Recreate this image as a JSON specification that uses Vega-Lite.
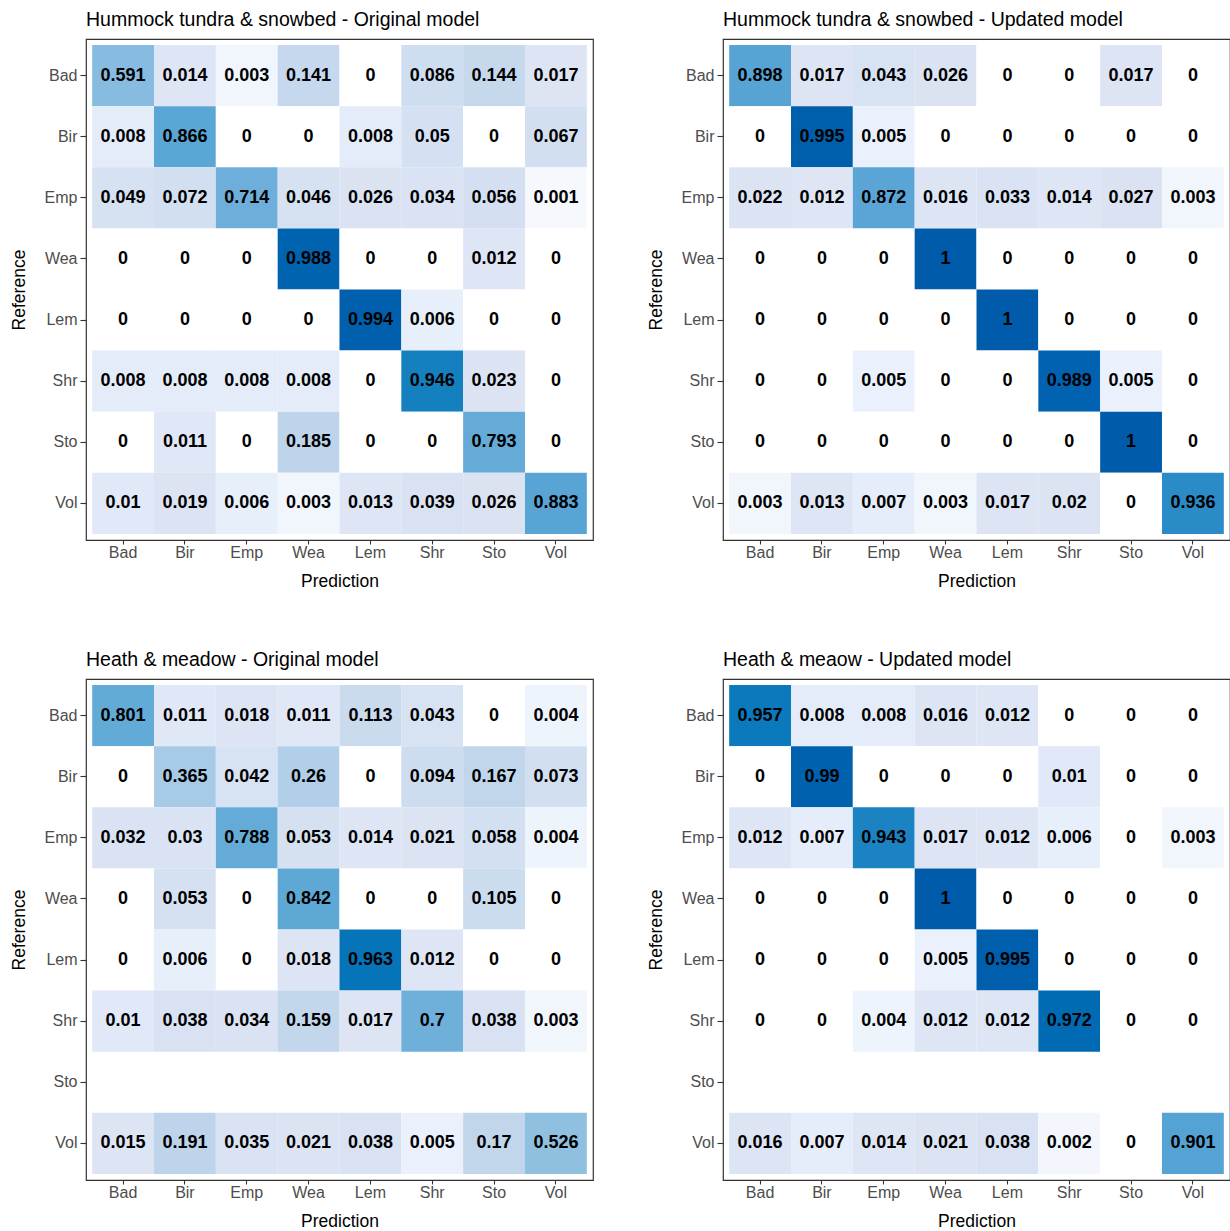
{
  "$schema": "https://vega.github.io/schema/vega-lite/v6.json",
  "padding": {"left": 9, "top": 8, "right": 0, "bottom": 0},
  "background": "white",
  "bounds": "flush",
  "columns": 2,
  "spacing": {"row": 139, "column": 130},
  "data": {"values": [
    {"p":"A","r":"Bad","c":"Bad","v":0.591},{"p":"A","r":"Bad","c":"Bir","v":0.014},{"p":"A","r":"Bad","c":"Emp","v":0.003},{"p":"A","r":"Bad","c":"Wea","v":0.141},{"p":"A","r":"Bad","c":"Lem","v":0},{"p":"A","r":"Bad","c":"Shr","v":0.086},{"p":"A","r":"Bad","c":"Sto","v":0.144},{"p":"A","r":"Bad","c":"Vol","v":0.017},
    {"p":"A","r":"Bir","c":"Bad","v":0.008},{"p":"A","r":"Bir","c":"Bir","v":0.866},{"p":"A","r":"Bir","c":"Emp","v":0},{"p":"A","r":"Bir","c":"Wea","v":0},{"p":"A","r":"Bir","c":"Lem","v":0.008},{"p":"A","r":"Bir","c":"Shr","v":0.05},{"p":"A","r":"Bir","c":"Sto","v":0},{"p":"A","r":"Bir","c":"Vol","v":0.067},
    {"p":"A","r":"Emp","c":"Bad","v":0.049},{"p":"A","r":"Emp","c":"Bir","v":0.072},{"p":"A","r":"Emp","c":"Emp","v":0.714},{"p":"A","r":"Emp","c":"Wea","v":0.046},{"p":"A","r":"Emp","c":"Lem","v":0.026},{"p":"A","r":"Emp","c":"Shr","v":0.034},{"p":"A","r":"Emp","c":"Sto","v":0.056},{"p":"A","r":"Emp","c":"Vol","v":0.001},
    {"p":"A","r":"Wea","c":"Bad","v":0},{"p":"A","r":"Wea","c":"Bir","v":0},{"p":"A","r":"Wea","c":"Emp","v":0},{"p":"A","r":"Wea","c":"Wea","v":0.988},{"p":"A","r":"Wea","c":"Lem","v":0},{"p":"A","r":"Wea","c":"Shr","v":0},{"p":"A","r":"Wea","c":"Sto","v":0.012},{"p":"A","r":"Wea","c":"Vol","v":0},
    {"p":"A","r":"Lem","c":"Bad","v":0},{"p":"A","r":"Lem","c":"Bir","v":0},{"p":"A","r":"Lem","c":"Emp","v":0},{"p":"A","r":"Lem","c":"Wea","v":0},{"p":"A","r":"Lem","c":"Lem","v":0.994},{"p":"A","r":"Lem","c":"Shr","v":0.006},{"p":"A","r":"Lem","c":"Sto","v":0},{"p":"A","r":"Lem","c":"Vol","v":0},
    {"p":"A","r":"Shr","c":"Bad","v":0.008},{"p":"A","r":"Shr","c":"Bir","v":0.008},{"p":"A","r":"Shr","c":"Emp","v":0.008},{"p":"A","r":"Shr","c":"Wea","v":0.008},{"p":"A","r":"Shr","c":"Lem","v":0},{"p":"A","r":"Shr","c":"Shr","v":0.946},{"p":"A","r":"Shr","c":"Sto","v":0.023},{"p":"A","r":"Shr","c":"Vol","v":0},
    {"p":"A","r":"Sto","c":"Bad","v":0},{"p":"A","r":"Sto","c":"Bir","v":0.011},{"p":"A","r":"Sto","c":"Emp","v":0},{"p":"A","r":"Sto","c":"Wea","v":0.185},{"p":"A","r":"Sto","c":"Lem","v":0},{"p":"A","r":"Sto","c":"Shr","v":0},{"p":"A","r":"Sto","c":"Sto","v":0.793},{"p":"A","r":"Sto","c":"Vol","v":0},
    {"p":"A","r":"Vol","c":"Bad","v":0.01},{"p":"A","r":"Vol","c":"Bir","v":0.019},{"p":"A","r":"Vol","c":"Emp","v":0.006},{"p":"A","r":"Vol","c":"Wea","v":0.003},{"p":"A","r":"Vol","c":"Lem","v":0.013},{"p":"A","r":"Vol","c":"Shr","v":0.039},{"p":"A","r":"Vol","c":"Sto","v":0.026},{"p":"A","r":"Vol","c":"Vol","v":0.883},

    {"p":"B","r":"Bad","c":"Bad","v":0.898},{"p":"B","r":"Bad","c":"Bir","v":0.017},{"p":"B","r":"Bad","c":"Emp","v":0.043},{"p":"B","r":"Bad","c":"Wea","v":0.026},{"p":"B","r":"Bad","c":"Lem","v":0},{"p":"B","r":"Bad","c":"Shr","v":0},{"p":"B","r":"Bad","c":"Sto","v":0.017},{"p":"B","r":"Bad","c":"Vol","v":0},
    {"p":"B","r":"Bir","c":"Bad","v":0},{"p":"B","r":"Bir","c":"Bir","v":0.995},{"p":"B","r":"Bir","c":"Emp","v":0.005},{"p":"B","r":"Bir","c":"Wea","v":0},{"p":"B","r":"Bir","c":"Lem","v":0},{"p":"B","r":"Bir","c":"Shr","v":0},{"p":"B","r":"Bir","c":"Sto","v":0},{"p":"B","r":"Bir","c":"Vol","v":0},
    {"p":"B","r":"Emp","c":"Bad","v":0.022},{"p":"B","r":"Emp","c":"Bir","v":0.012},{"p":"B","r":"Emp","c":"Emp","v":0.872},{"p":"B","r":"Emp","c":"Wea","v":0.016},{"p":"B","r":"Emp","c":"Lem","v":0.033},{"p":"B","r":"Emp","c":"Shr","v":0.014},{"p":"B","r":"Emp","c":"Sto","v":0.027},{"p":"B","r":"Emp","c":"Vol","v":0.003},
    {"p":"B","r":"Wea","c":"Bad","v":0},{"p":"B","r":"Wea","c":"Bir","v":0},{"p":"B","r":"Wea","c":"Emp","v":0},{"p":"B","r":"Wea","c":"Wea","v":1},{"p":"B","r":"Wea","c":"Lem","v":0},{"p":"B","r":"Wea","c":"Shr","v":0},{"p":"B","r":"Wea","c":"Sto","v":0},{"p":"B","r":"Wea","c":"Vol","v":0},
    {"p":"B","r":"Lem","c":"Bad","v":0},{"p":"B","r":"Lem","c":"Bir","v":0},{"p":"B","r":"Lem","c":"Emp","v":0},{"p":"B","r":"Lem","c":"Wea","v":0},{"p":"B","r":"Lem","c":"Lem","v":1},{"p":"B","r":"Lem","c":"Shr","v":0},{"p":"B","r":"Lem","c":"Sto","v":0},{"p":"B","r":"Lem","c":"Vol","v":0},
    {"p":"B","r":"Shr","c":"Bad","v":0},{"p":"B","r":"Shr","c":"Bir","v":0},{"p":"B","r":"Shr","c":"Emp","v":0.005},{"p":"B","r":"Shr","c":"Wea","v":0},{"p":"B","r":"Shr","c":"Lem","v":0},{"p":"B","r":"Shr","c":"Shr","v":0.989},{"p":"B","r":"Shr","c":"Sto","v":0.005},{"p":"B","r":"Shr","c":"Vol","v":0},
    {"p":"B","r":"Sto","c":"Bad","v":0},{"p":"B","r":"Sto","c":"Bir","v":0},{"p":"B","r":"Sto","c":"Emp","v":0},{"p":"B","r":"Sto","c":"Wea","v":0},{"p":"B","r":"Sto","c":"Lem","v":0},{"p":"B","r":"Sto","c":"Shr","v":0},{"p":"B","r":"Sto","c":"Sto","v":1},{"p":"B","r":"Sto","c":"Vol","v":0},
    {"p":"B","r":"Vol","c":"Bad","v":0.003},{"p":"B","r":"Vol","c":"Bir","v":0.013},{"p":"B","r":"Vol","c":"Emp","v":0.007},{"p":"B","r":"Vol","c":"Wea","v":0.003},{"p":"B","r":"Vol","c":"Lem","v":0.017},{"p":"B","r":"Vol","c":"Shr","v":0.02},{"p":"B","r":"Vol","c":"Sto","v":0},{"p":"B","r":"Vol","c":"Vol","v":0.936},

    {"p":"C","r":"Bad","c":"Bad","v":0.801},{"p":"C","r":"Bad","c":"Bir","v":0.011},{"p":"C","r":"Bad","c":"Emp","v":0.018},{"p":"C","r":"Bad","c":"Wea","v":0.011},{"p":"C","r":"Bad","c":"Lem","v":0.113},{"p":"C","r":"Bad","c":"Shr","v":0.043},{"p":"C","r":"Bad","c":"Sto","v":0},{"p":"C","r":"Bad","c":"Vol","v":0.004},
    {"p":"C","r":"Bir","c":"Bad","v":0},{"p":"C","r":"Bir","c":"Bir","v":0.365},{"p":"C","r":"Bir","c":"Emp","v":0.042},{"p":"C","r":"Bir","c":"Wea","v":0.26},{"p":"C","r":"Bir","c":"Lem","v":0},{"p":"C","r":"Bir","c":"Shr","v":0.094},{"p":"C","r":"Bir","c":"Sto","v":0.167},{"p":"C","r":"Bir","c":"Vol","v":0.073},
    {"p":"C","r":"Emp","c":"Bad","v":0.032},{"p":"C","r":"Emp","c":"Bir","v":0.03},{"p":"C","r":"Emp","c":"Emp","v":0.788},{"p":"C","r":"Emp","c":"Wea","v":0.053},{"p":"C","r":"Emp","c":"Lem","v":0.014},{"p":"C","r":"Emp","c":"Shr","v":0.021},{"p":"C","r":"Emp","c":"Sto","v":0.058},{"p":"C","r":"Emp","c":"Vol","v":0.004},
    {"p":"C","r":"Wea","c":"Bad","v":0},{"p":"C","r":"Wea","c":"Bir","v":0.053},{"p":"C","r":"Wea","c":"Emp","v":0},{"p":"C","r":"Wea","c":"Wea","v":0.842},{"p":"C","r":"Wea","c":"Lem","v":0},{"p":"C","r":"Wea","c":"Shr","v":0},{"p":"C","r":"Wea","c":"Sto","v":0.105},{"p":"C","r":"Wea","c":"Vol","v":0},
    {"p":"C","r":"Lem","c":"Bad","v":0},{"p":"C","r":"Lem","c":"Bir","v":0.006},{"p":"C","r":"Lem","c":"Emp","v":0},{"p":"C","r":"Lem","c":"Wea","v":0.018},{"p":"C","r":"Lem","c":"Lem","v":0.963},{"p":"C","r":"Lem","c":"Shr","v":0.012},{"p":"C","r":"Lem","c":"Sto","v":0},{"p":"C","r":"Lem","c":"Vol","v":0},
    {"p":"C","r":"Shr","c":"Bad","v":0.01},{"p":"C","r":"Shr","c":"Bir","v":0.038},{"p":"C","r":"Shr","c":"Emp","v":0.034},{"p":"C","r":"Shr","c":"Wea","v":0.159},{"p":"C","r":"Shr","c":"Lem","v":0.017},{"p":"C","r":"Shr","c":"Shr","v":0.7},{"p":"C","r":"Shr","c":"Sto","v":0.038},{"p":"C","r":"Shr","c":"Vol","v":0.003},
    {"p":"C","r":"Vol","c":"Bad","v":0.015},{"p":"C","r":"Vol","c":"Bir","v":0.191},{"p":"C","r":"Vol","c":"Emp","v":0.035},{"p":"C","r":"Vol","c":"Wea","v":0.021},{"p":"C","r":"Vol","c":"Lem","v":0.038},{"p":"C","r":"Vol","c":"Shr","v":0.005},{"p":"C","r":"Vol","c":"Sto","v":0.17},{"p":"C","r":"Vol","c":"Vol","v":0.526},

    {"p":"D","r":"Bad","c":"Bad","v":0.957},{"p":"D","r":"Bad","c":"Bir","v":0.008},{"p":"D","r":"Bad","c":"Emp","v":0.008},{"p":"D","r":"Bad","c":"Wea","v":0.016},{"p":"D","r":"Bad","c":"Lem","v":0.012},{"p":"D","r":"Bad","c":"Shr","v":0},{"p":"D","r":"Bad","c":"Sto","v":0},{"p":"D","r":"Bad","c":"Vol","v":0},
    {"p":"D","r":"Bir","c":"Bad","v":0},{"p":"D","r":"Bir","c":"Bir","v":0.99},{"p":"D","r":"Bir","c":"Emp","v":0},{"p":"D","r":"Bir","c":"Wea","v":0},{"p":"D","r":"Bir","c":"Lem","v":0},{"p":"D","r":"Bir","c":"Shr","v":0.01},{"p":"D","r":"Bir","c":"Sto","v":0},{"p":"D","r":"Bir","c":"Vol","v":0},
    {"p":"D","r":"Emp","c":"Bad","v":0.012},{"p":"D","r":"Emp","c":"Bir","v":0.007},{"p":"D","r":"Emp","c":"Emp","v":0.943},{"p":"D","r":"Emp","c":"Wea","v":0.017},{"p":"D","r":"Emp","c":"Lem","v":0.012},{"p":"D","r":"Emp","c":"Shr","v":0.006},{"p":"D","r":"Emp","c":"Sto","v":0},{"p":"D","r":"Emp","c":"Vol","v":0.003},
    {"p":"D","r":"Wea","c":"Bad","v":0},{"p":"D","r":"Wea","c":"Bir","v":0},{"p":"D","r":"Wea","c":"Emp","v":0},{"p":"D","r":"Wea","c":"Wea","v":1},{"p":"D","r":"Wea","c":"Lem","v":0},{"p":"D","r":"Wea","c":"Shr","v":0},{"p":"D","r":"Wea","c":"Sto","v":0},{"p":"D","r":"Wea","c":"Vol","v":0},
    {"p":"D","r":"Lem","c":"Bad","v":0},{"p":"D","r":"Lem","c":"Bir","v":0},{"p":"D","r":"Lem","c":"Emp","v":0},{"p":"D","r":"Lem","c":"Wea","v":0.005},{"p":"D","r":"Lem","c":"Lem","v":0.995},{"p":"D","r":"Lem","c":"Shr","v":0},{"p":"D","r":"Lem","c":"Sto","v":0},{"p":"D","r":"Lem","c":"Vol","v":0},
    {"p":"D","r":"Shr","c":"Bad","v":0},{"p":"D","r":"Shr","c":"Bir","v":0},{"p":"D","r":"Shr","c":"Emp","v":0.004},{"p":"D","r":"Shr","c":"Wea","v":0.012},{"p":"D","r":"Shr","c":"Lem","v":0.012},{"p":"D","r":"Shr","c":"Shr","v":0.972},{"p":"D","r":"Shr","c":"Sto","v":0},{"p":"D","r":"Shr","c":"Vol","v":0},
    {"p":"D","r":"Vol","c":"Bad","v":0.016},{"p":"D","r":"Vol","c":"Bir","v":0.007},{"p":"D","r":"Vol","c":"Emp","v":0.014},{"p":"D","r":"Vol","c":"Wea","v":0.021},{"p":"D","r":"Vol","c":"Lem","v":0.038},{"p":"D","r":"Vol","c":"Shr","v":0.002},{"p":"D","r":"Vol","c":"Sto","v":0},{"p":"D","r":"Vol","c":"Vol","v":0.901}
  ]},
  "concat": [
    {
      "title": {"text": "Hummock tundra & snowbed - Original model"},
      "transform": [{"filter": "datum.p === 'A'"}],
      "width": 507, "height": 501,
      "encoding": {
        "x": {"field": "c", "type": "nominal", "title": "Prediction", "scale": {"domain": ["Bad","Bir","Emp","Wea","Lem","Shr","Sto","Vol"], "paddingInner": 0, "paddingOuter": 0.1}},
        "y": {"field": "r", "type": "nominal", "title": "Reference", "scale": {"domain": ["Bad","Bir","Emp","Wea","Lem","Shr","Sto","Vol"], "paddingInner": 0, "paddingOuter": 0.1}}
      },
      "layer": [
        {"mark": {"type": "rect"}, "encoding": {"color": {"field": "v", "type": "quantitative", "legend": null, "scale": {"type": "linear", "interpolate": "rgb", "domain": [0, 0.001, 0.003, 0.006, 0.012, 0.03, 0.06, 0.15, 0.26, 0.37, 0.53, 0.6, 0.7, 0.8, 0.9, 0.936, 0.946, 0.957, 0.972, 0.988, 1], "range": ["#ffffff", "#f5f8fd", "#f1f6fd", "#e7effb", "#dee5f5", "#dae3f3", "#d3e0f1", "#c4d7ec", "#b1cfe8", "#a6cae6", "#8fc0e0", "#86bae0", "#6fb0da", "#63abd7", "#56a3d4", "#2b8bc6", "#1480c0", "#0a7abc", "#006ab3", "#0063b0", "#005cab"]}}}},
        {"mark": {"type": "text", "fontWeight": "bold", "fontSize": 18, "font": "Liberation Sans", "color": "black"}, "encoding": {"text": {"field": "v", "type": "quantitative", "format": ".3~f"}}}
      ]
    },
    {
      "title": {"text": "Hummock tundra & snowbed - Updated model"},
      "transform": [{"filter": "datum.p === 'B'"}],
      "width": 507, "height": 501,
      "encoding": {
        "x": {"field": "c", "type": "nominal", "title": "Prediction", "scale": {"domain": ["Bad","Bir","Emp","Wea","Lem","Shr","Sto","Vol"], "paddingInner": 0, "paddingOuter": 0.1}},
        "y": {"field": "r", "type": "nominal", "title": "Reference", "scale": {"domain": ["Bad","Bir","Emp","Wea","Lem","Shr","Sto","Vol"], "paddingInner": 0, "paddingOuter": 0.1}}
      },
      "layer": [
        {"mark": {"type": "rect"}, "encoding": {"color": {"field": "v", "type": "quantitative", "legend": null, "scale": {"type": "linear", "interpolate": "rgb", "domain": [0, 0.001, 0.003, 0.006, 0.012, 0.03, 0.06, 0.15, 0.26, 0.37, 0.53, 0.6, 0.7, 0.8, 0.9, 0.936, 0.946, 0.957, 0.972, 0.988, 1], "range": ["#ffffff", "#f5f8fd", "#f1f6fd", "#e7effb", "#dee5f5", "#dae3f3", "#d3e0f1", "#c4d7ec", "#b1cfe8", "#a6cae6", "#8fc0e0", "#86bae0", "#6fb0da", "#63abd7", "#56a3d4", "#2b8bc6", "#1480c0", "#0a7abc", "#006ab3", "#0063b0", "#005cab"]}}}},
        {"mark": {"type": "text", "fontWeight": "bold", "fontSize": 18, "font": "Liberation Sans", "color": "black"}, "encoding": {"text": {"field": "v", "type": "quantitative", "format": ".3~f"}}}
      ]
    },
    {
      "title": {"text": "Heath & meadow - Original model"},
      "transform": [{"filter": "datum.p === 'C'"}],
      "width": 507, "height": 501,
      "encoding": {
        "x": {"field": "c", "type": "nominal", "title": "Prediction", "scale": {"domain": ["Bad","Bir","Emp","Wea","Lem","Shr","Sto","Vol"], "paddingInner": 0, "paddingOuter": 0.1}},
        "y": {"field": "r", "type": "nominal", "title": "Reference", "scale": {"domain": ["Bad","Bir","Emp","Wea","Lem","Shr","Sto","Vol"], "paddingInner": 0, "paddingOuter": 0.1}}
      },
      "layer": [
        {"mark": {"type": "rect"}, "encoding": {"color": {"field": "v", "type": "quantitative", "legend": null, "scale": {"type": "linear", "interpolate": "rgb", "domain": [0, 0.001, 0.003, 0.006, 0.012, 0.03, 0.06, 0.15, 0.26, 0.37, 0.53, 0.6, 0.7, 0.8, 0.9, 0.936, 0.946, 0.957, 0.972, 0.988, 1], "range": ["#ffffff", "#f5f8fd", "#f1f6fd", "#e7effb", "#dee5f5", "#dae3f3", "#d3e0f1", "#c4d7ec", "#b1cfe8", "#a6cae6", "#8fc0e0", "#86bae0", "#6fb0da", "#63abd7", "#56a3d4", "#2b8bc6", "#1480c0", "#0a7abc", "#006ab3", "#0063b0", "#005cab"]}}}},
        {"mark": {"type": "text", "fontWeight": "bold", "fontSize": 18, "font": "Liberation Sans", "color": "black"}, "encoding": {"text": {"field": "v", "type": "quantitative", "format": ".3~f"}}}
      ]
    },
    {
      "title": {"text": "Heath & meaow - Updated model"},
      "transform": [{"filter": "datum.p === 'D'"}],
      "width": 507, "height": 501,
      "encoding": {
        "x": {"field": "c", "type": "nominal", "title": "Prediction", "scale": {"domain": ["Bad","Bir","Emp","Wea","Lem","Shr","Sto","Vol"], "paddingInner": 0, "paddingOuter": 0.1}},
        "y": {"field": "r", "type": "nominal", "title": "Reference", "scale": {"domain": ["Bad","Bir","Emp","Wea","Lem","Shr","Sto","Vol"], "paddingInner": 0, "paddingOuter": 0.1}}
      },
      "layer": [
        {"mark": {"type": "rect"}, "encoding": {"color": {"field": "v", "type": "quantitative", "legend": null, "scale": {"type": "linear", "interpolate": "rgb", "domain": [0, 0.001, 0.003, 0.006, 0.012, 0.03, 0.06, 0.15, 0.26, 0.37, 0.53, 0.6, 0.7, 0.8, 0.9, 0.936, 0.946, 0.957, 0.972, 0.988, 1], "range": ["#ffffff", "#f5f8fd", "#f1f6fd", "#e7effb", "#dee5f5", "#dae3f3", "#d3e0f1", "#c4d7ec", "#b1cfe8", "#a6cae6", "#8fc0e0", "#86bae0", "#6fb0da", "#63abd7", "#56a3d4", "#2b8bc6", "#1480c0", "#0a7abc", "#006ab3", "#0063b0", "#005cab"]}}}},
        {"mark": {"type": "text", "fontWeight": "bold", "fontSize": 18, "font": "Liberation Sans", "color": "black"}, "encoding": {"text": {"field": "v", "type": "quantitative", "format": ".3~f"}}}
      ]
    }
  ],
  "resolve": {"scale": {"color": "shared"}},
  "config": {
    "font": "Liberation Sans",
    "view": {"stroke": "#333333", "strokeWidth": 1.2},
    "title": {"anchor": "start", "frame": "group", "fontSize": 19.5, "fontWeight": "normal", "color": "black", "font": "Liberation Sans", "offset": 9},
    "axis": {
      "domain": false, "grid": false,
      "ticks": true, "tickColor": "#333333", "tickSize": 4, "tickWidth": 1.1,
      "labelColor": "#4d4d4d", "labelFontSize": 16, "labelFont": "Liberation Sans", "labelPadding": 0,
      "titleColor": "black", "titleFontSize": 17.5, "titleFontWeight": "normal", "titleFont": "Liberation Sans", "titlePadding": 12
    },
    "axisX": {"labelAngle": 0},
    "axisY": {"tickSize": 6, "labelPadding": 3, "titlePadding": 16}
  }
}
